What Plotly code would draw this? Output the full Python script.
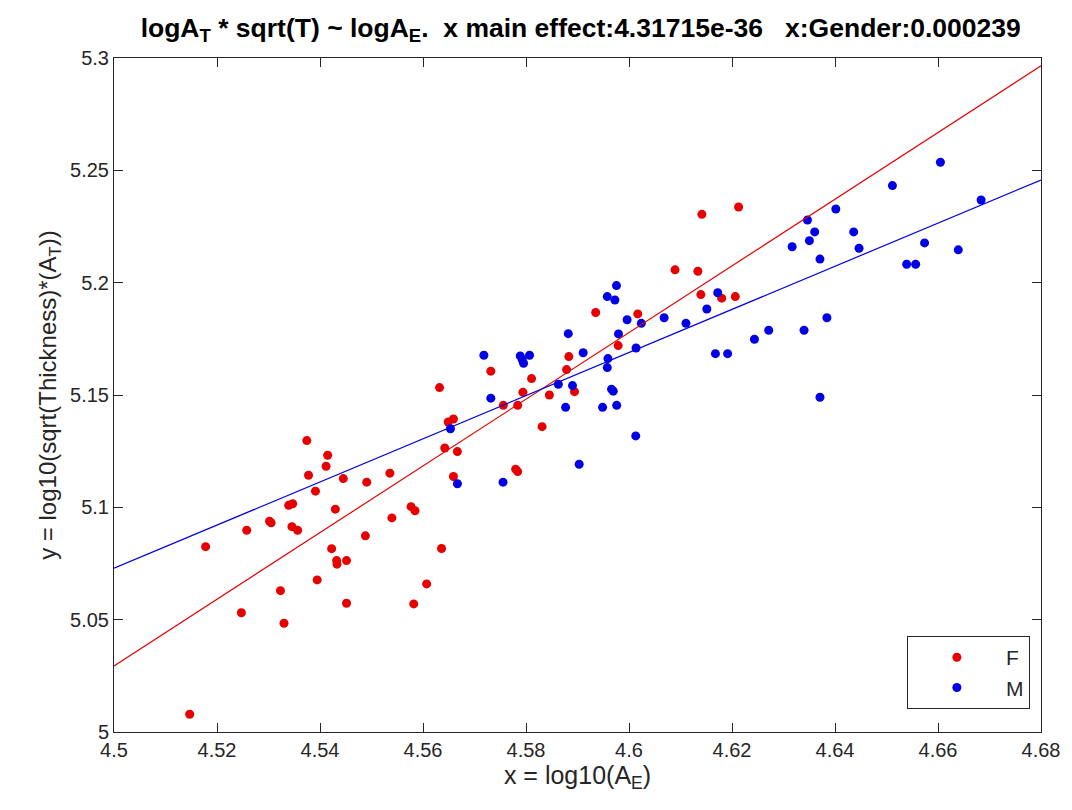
import plotly.graph_objects as go

# Female (F) points
f_x = [4.51470, 4.51779, 4.52473, 4.52577, 4.53020, 4.53051, 4.53232, 4.53301, 4.53392, 4.53469,
       4.53455, 4.53565, 4.53744, 4.53777, 4.53912, 4.53945, 4.54118, 4.54149, 4.54226, 4.54298,
       4.54323, 4.54330, 4.54452, 4.54515, 4.54515, 4.54881, 4.54908, 4.55357, 4.55396, 4.55768,
       4.55845, 4.55820, 4.56071, 4.56360, 4.56321, 4.56423, 4.56489, 4.56591, 4.56668, 4.56591,
       4.57317, 4.57560, 4.57799, 4.57838, 4.57838, 4.57940, 4.58108, 4.58312, 4.58454, 4.58788,
       4.58832, 4.58942, 4.59353, 4.59790, 4.60170, 4.60894, 4.61337, 4.61395, 4.61415, 4.61800,
       4.62064, 4.62128]
f_y = [5.0079, 5.0825, 5.0531, 5.0898, 5.0938, 5.0931, 5.0629, 5.0484, 5.1009, 5.1016,
       5.0914, 5.0898, 5.1297, 5.1143, 5.1072, 5.0677, 5.1183, 5.1232, 5.0816, 5.0992,
       5.0763, 5.0747, 5.1128, 5.0763, 5.0573, 5.0873, 5.1112, 5.1152, 5.0953, 5.1003,
       5.0985, 5.0570, 5.0659, 5.0817, 5.1533, 5.1264, 5.1380, 5.1393, 5.1248, 5.1137,
       5.1606, 5.1454, 5.1170, 5.1159, 5.1454, 5.1512, 5.1573, 5.1359, 5.1500, 5.1613,
       5.1671, 5.1515, 5.1867, 5.1720, 5.1861, 5.2057, 5.2051, 5.1947, 5.2304, 5.1931,
       5.1938, 5.2337]

# Male (M) points
m_x = [4.56533, 4.56668, 4.57182, 4.57317, 4.57554, 4.57888, 4.58069, 4.57953, 4.57925, 4.58628,
       4.58821, 4.58903, 4.58769, 4.59032, 4.59110, 4.59487, 4.59578, 4.59726, 4.59757, 4.59591,
       4.59578, 4.59661, 4.59694, 4.59761, 4.59796, 4.59963, 4.60137, 4.60131, 4.60239, 4.60682,
       4.61106, 4.61511, 4.61723, 4.61678, 4.61915, 4.62436, 4.62713, 4.63168, 4.63399, 4.63465,
       4.63503, 4.63606, 4.63708, 4.63708, 4.63843, 4.64016, 4.64363, 4.64467, 4.65115, 4.65392,
       4.65566, 4.65739, 4.66047, 4.66394, 4.66837]
m_y = [5.1350, 5.1105, 5.1677, 5.1486, 5.1112, 5.1674, 5.1677, 5.1641, 5.1658, 5.1548,
       5.1773, 5.1542, 5.1445, 5.1192, 5.1688, 5.1445, 5.1938, 5.1923, 5.1987, 5.1662,
       5.1622, 5.1526, 5.1517, 5.1454, 5.1772, 5.1835, 5.1709, 5.1318, 5.1819, 5.1844,
       5.1819, 5.1883, 5.1955, 5.1684, 5.1684, 5.1748, 5.1788, 5.2160, 5.1788, 5.2279,
       5.2187, 5.2226, 5.2105, 5.1490, 5.1844, 5.2328, 5.2226, 5.2153, 5.2432, 5.2082,
       5.2082, 5.2177, 5.2536, 5.2146, 5.2368]

# Fitted lines (endpoints at axis limits)
fit_x = [4.5, 4.68]
fit_f = [5.0294, 5.2965]
fit_m = [5.0729, 5.2457]

x_ticks = [4.5, 4.52, 4.54, 4.56, 4.58, 4.6, 4.62, 4.64, 4.66, 4.68]
x_tick_labels = ["4.5", "4.52", "4.54", "4.56", "4.58", "4.6", "4.62", "4.64", "4.66", "4.68"]
y_ticks = [5, 5.05, 5.1, 5.15, 5.2, 5.25, 5.3]
y_tick_labels = ["5", "5.05", "5.1", "5.15", "5.2", "5.25", "5.3"]

RED = "#e60000"
BLUE = "#0000e6"
AX = "#262626"
FONT = "Liberation Sans, Arial, sans-serif"

fig = go.Figure()
fig.add_trace(go.Scatter(x=f_x, y=f_y, mode="markers", name="F",
                         marker=dict(color=RED, size=9, line=dict(width=0))))
fig.add_trace(go.Scatter(x=m_x, y=m_y, mode="markers", name="M",
                         marker=dict(color=BLUE, size=9, line=dict(width=0))))
fig.add_trace(go.Scatter(x=fit_x, y=fit_f, mode="lines", showlegend=False,
                         line=dict(color=RED, width=1.2)))
fig.add_trace(go.Scatter(x=fit_x, y=fit_m, mode="lines", showlegend=False,
                         line=dict(color=BLUE, width=1.2)))

axis_common = dict(showgrid=False, zeroline=False, showline=True, linecolor=AX, linewidth=1,
                   mirror="ticks", ticks="inside", ticklen=9, tickcolor=AX, tickwidth=1,
                   tickfont=dict(family=FONT, size=20, color=AX))

fig.update_layout(
    width=1072, height=810,
    margin=dict(l=114, r=24, t=58, b=78),
    paper_bgcolor="white", plot_bgcolor="white",
    font=dict(family=FONT, color=AX),
    title=dict(text="<b>logA<sub>T</sub> * sqrt(T) ~ logA<sub>E</sub>.  x main effect:4.31715e-36   x:Gender:0.000239</b>",
               x=0.5417, xanchor="center", y=0.966, yanchor="middle", yref="container",
               font=dict(family=FONT, size=26.5, color="black")),
    xaxis=dict(range=[4.5, 4.68], tickvals=x_ticks, ticktext=x_tick_labels,
               title=dict(text="x = log10(A<sub>E</sub>)", font=dict(family=FONT, size=25, color=AX), standoff=4),
               **axis_common),
    yaxis=dict(range=[5, 5.3], tickvals=y_ticks, ticktext=y_tick_labels,
               title=dict(text="y = log10(sqrt(Thickness)*(A<sub>T</sub>))", font=dict(family=FONT, size=24, color=AX), standoff=6),
               **axis_common),
    legend=dict(x=0.988, xanchor="right", y=0.034, yanchor="bottom",
                bgcolor="white", bordercolor=AX, borderwidth=1,
                font=dict(family=FONT, size=21, color=AX), itemwidth=88),
)

fig.write_html("out.html")
